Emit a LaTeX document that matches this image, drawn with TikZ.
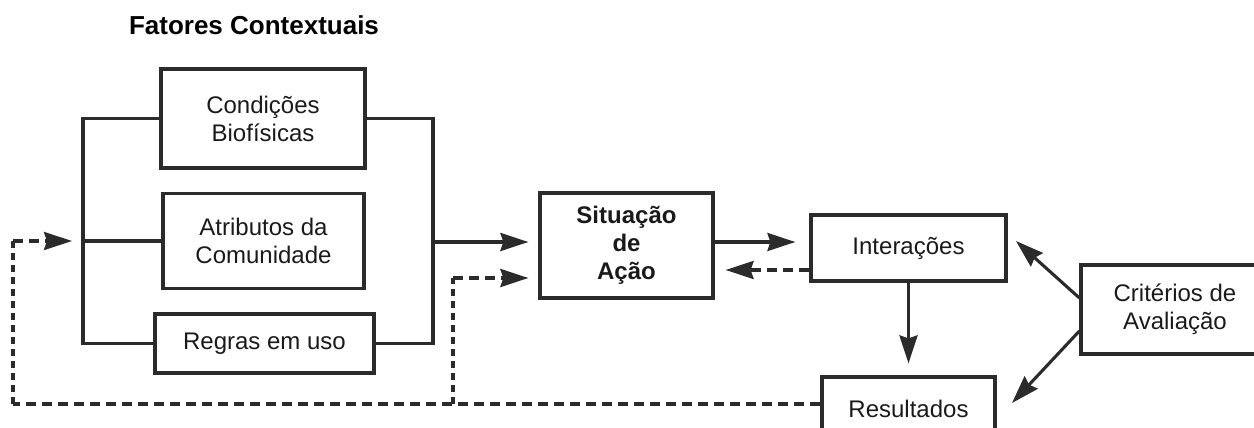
\documentclass[tikz,border=0pt]{standalone}
\usepackage{fontspec}
\setmainfont{Liberation Sans}
\usetikzlibrary{arrows.meta}
\definecolor{ink}{HTML}{2B2B2B}
\definecolor{txt}{HTML}{1A1A1A}
\tikzset{
  box/.style={draw=ink, line width=3.2pt, rectangle, inner sep=0pt, align=center,
    text=txt, font=\fontsize{24}{28}\selectfont},
  wire/.style={draw=ink, line width=3.1pt},
  head/.style={-{Stealth[length=28pt,width=18pt,inset=3pt]}},
  flow/.style={wire, head},
  dashh/.style={wire, dash pattern=on 10pt off 6pt},
  dashv/.style={wire, dash pattern=on 7pt off 5pt},
}
\begin{document}
\begin{tikzpicture}[x=1pt, y=-1pt]
\useasboundingbox (0,0) rectangle (1254,428);
\clip (0,0) rectangle (1254,428);

% heading
\node[font=\fontsize{26}{30}\selectfont\bfseries, text=black] (title) at (254,25) {Fatores Contextuais};

% contextual factors
\node[box, minimum width=204pt, minimum height=99pt] (cond)   at (263,118.5) {Condições\\Biofísicas};
\node[box, minimum width=201pt, minimum height=95pt] (atrib)  at (263.5,241) {Atributos da\\Comunidade};
\node[box, minimum width=219pt, minimum height=59pt] (regras) at (264.5,343.5) {Regras em uso};

% action arena and its results
\node[box, minimum width=173pt, minimum height=105pt, font=\fontsize{24}{28}\selectfont\bfseries] (sit) at (626.5,245.5) {Situação\\de\\Ação};
\node[box, minimum width=195pt, minimum height=66pt]  (inter)  at (908.5,248) {Interações};
\node[box, minimum width=173pt, minimum height=63pt]  (result) at (908.5,408.5) {Resultados};
\node[box, minimum width=188pt, minimum height=89pt]  (crit)   at (1175,309.5) {Critérios de\\Avaliação};

% spines collecting the three factors
\coordinate (L) at (83,241);
\coordinate (R) at (433,242);
\draw[wire] (cond.west) -| (L) |- (regras.west);
\draw[wire] (L) -- (atrib.west);
\draw[wire] (cond.east) -| (R) |- (regras.east);

% forward flow
\draw[flow, shorten >=10pt] (R) -- (sit.west |- R);
\coordinate (s1) at (713,242);
\draw[flow, shorten >=14pt] (sit.east |- s1) -- (inter.west |- s1);
\draw[flow, shorten >=12pt] (inter.south) -- (result.north);

% feedback loops
\coordinate (f1) at (713,270);
\draw[dashh, head, shorten >=11pt] (inter.west |- f1) -- (sit.east |- f1);
\coordinate (bl) at (13,404);
\coordinate (bt) at (13,241);
\coordinate (br) at (453,404);
\coordinate (bu) at (453,278);
\draw[dashh] (result.west |- bl) -- (bl);
\draw[dashv] (bl) -- (bt);
\draw[dashh, head, shorten >=11pt] (bt) -- (L);
\draw[dashv] (br) -- (bu);
\draw[dashh, head, shorten >=10pt] (bu) -- (sit.west |- bu);

% evaluation criteria
\coordinate (c1) at (1016,241);
\coordinate (c2) at (1012,403);
\draw[flow] (crit.west |- 0,298) -- (c1);
\draw[flow] (crit.west |- 0,331) -- (c2);
\end{tikzpicture}
\end{document}
